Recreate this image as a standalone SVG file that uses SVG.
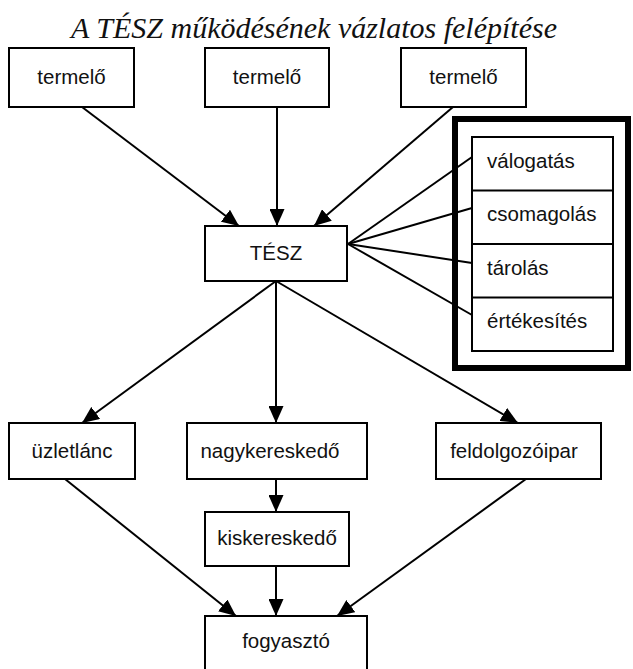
<svg xmlns="http://www.w3.org/2000/svg" width="633" height="669" viewBox="0 0 633 669">
<style>
.box{fill:#fff;stroke:#000;stroke-width:2}
.lbl{font-family:"Liberation Sans",Arial,sans-serif;font-size:20.5px;fill:#111}
.mid{text-anchor:middle}
.con line{stroke:#000;stroke-width:2}
.arr{marker-end:url(#ah)}
.title{font-family:"Liberation Serif","Times New Roman",serif;font-style:italic;font-size:30px;fill:#111;text-anchor:middle}
</style>
<defs>
<marker id="ah" markerUnits="userSpaceOnUse" markerWidth="17" markerHeight="15" refX="17" refY="7.5" orient="auto">
<path d="M0,0 L17,7.5 L0,15 Z" fill="#000"/>
</marker>
</defs>
<rect width="633" height="669" fill="#fff"/>
<text class="title" x="314" y="38">A TÉSZ működésének vázlatos felépítése</text>

<g id="funkciok-keret">
<rect x="455" y="119" width="173" height="249" fill="none" stroke="#000" stroke-width="6"/>
</g>

<g class="con">
<line class="arr" x1="82" y1="107" x2="239" y2="226"/>
<line class="arr" x1="277" y1="107" x2="277" y2="226"/>
<line class="arr" x1="453" y1="107" x2="314" y2="226"/>
<line x1="348" y1="244" x2="472" y2="157"/>
<line x1="348" y1="244" x2="472" y2="208"/>
<line x1="348" y1="244" x2="472" y2="263"/>
<line x1="348" y1="244" x2="472" y2="315"/>
<line class="arr" x1="276" y1="281" x2="82" y2="423"/>
<line class="arr" x1="276" y1="281" x2="276" y2="423"/>
<line class="arr" x1="276" y1="281" x2="518" y2="423"/>
<line class="arr" x1="276" y1="479" x2="276" y2="512"/>
<line class="arr" x1="65" y1="479" x2="236" y2="616"/>
<line class="arr" x1="276" y1="566" x2="276" y2="616"/>
<line class="arr" x1="526" y1="479" x2="337" y2="616"/>
</g>

<g id="termelo1"><rect class="box" x="9" y="48" width="125" height="59"/><text class="lbl mid" x="71.5" y="84">termelő</text></g>
<g id="termelo2"><rect class="box" x="205" y="48" width="124" height="59"/><text class="lbl mid" x="267" y="84">termelő</text></g>
<g id="termelo3"><rect class="box" x="401" y="48" width="125" height="59"/><text class="lbl mid" x="463.5" y="84">termelő</text></g>

<g id="tesz"><rect class="box" x="205" y="226" width="142" height="55"/><text class="lbl mid" x="276" y="260">TÉSZ</text></g>

<g id="funkciok">
<rect class="box" x="472" y="137" width="141" height="214"/>
<line x1="472" y1="190.5" x2="613" y2="190.5" stroke="#000" stroke-width="2"/>
<line x1="472" y1="244" x2="613" y2="244" stroke="#000" stroke-width="2"/>
<line x1="472" y1="297.5" x2="613" y2="297.5" stroke="#000" stroke-width="2"/>
<text class="lbl" x="487" y="168">válogatás</text>
<text class="lbl" x="487" y="221">csomagolás</text>
<text class="lbl" x="487" y="275">tárolás</text>
<text class="lbl" x="487" y="328">értékesítés</text>
</g>

<g id="uzletlanc"><rect class="box" x="9" y="423" width="126" height="56"/><text class="lbl mid" x="72" y="458">üzletlánc</text></g>
<g id="nagykereskedo"><rect class="box" x="187" y="423" width="180" height="56"/><text class="lbl mid" x="270" y="458">nagykereskedő</text></g>
<g id="feldolgozoipar"><rect class="box" x="436" y="423" width="165" height="56"/><text class="lbl mid" x="514" y="458">feldolgozóipar</text></g>
<g id="kiskereskedo"><rect class="box" x="205" y="512" width="144" height="54"/><text class="lbl mid" x="277" y="545">kiskereskedő</text></g>
<g id="fogyaszto"><rect class="box" x="205" y="616" width="162" height="62"/><text class="lbl mid" x="286" y="648">fogyasztó</text></g>
</svg>
